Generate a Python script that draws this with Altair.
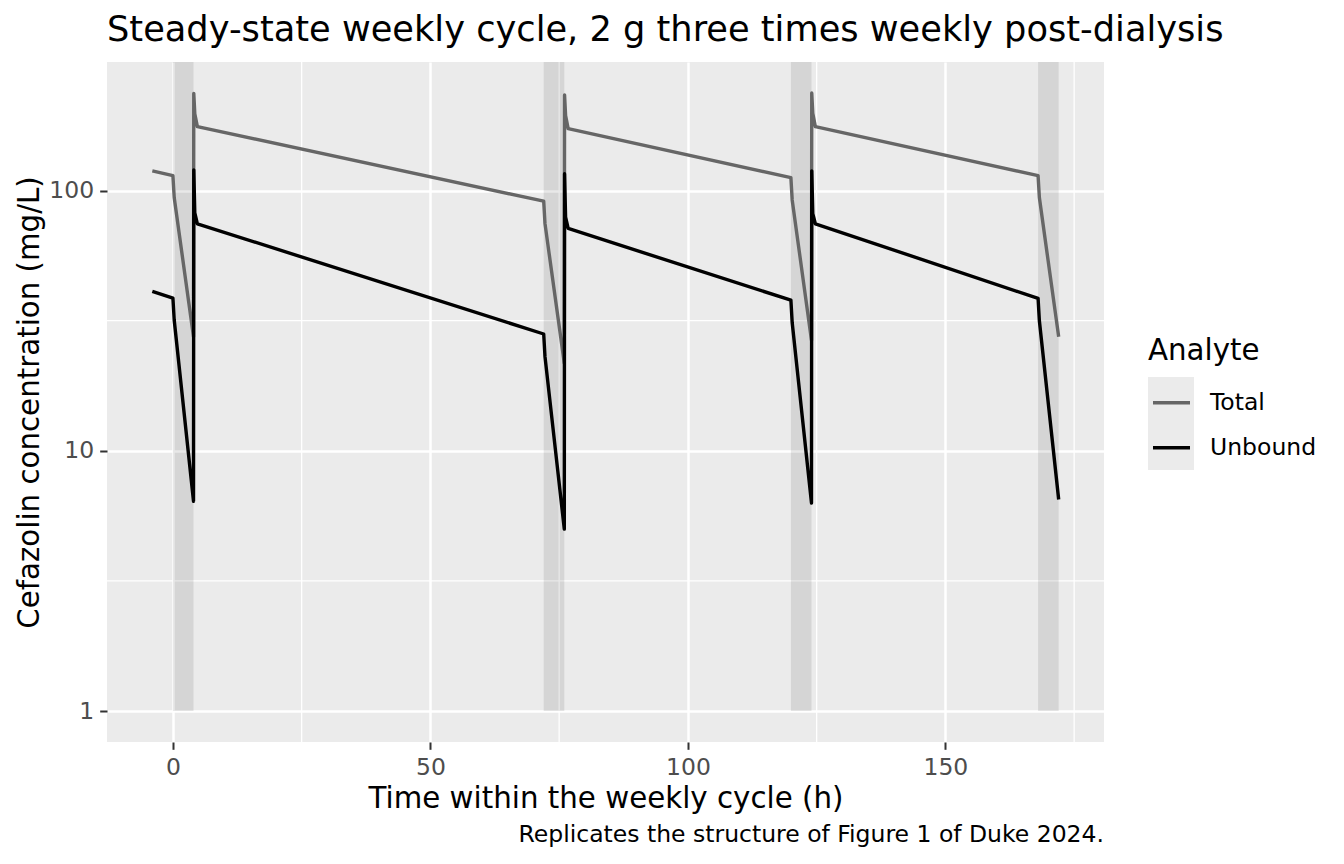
import altair as alt
import pandas as pd

# weekly cycle, times in h; dialysis 0-4, 72-76, 120-124, 168-172
time_h = [-4, 0, 0.25, 4, 4.05, 4.25, 4.75, 72, 72.25, 76, 76.05, 76.25, 76.75,
          120, 120.25, 124, 124.05, 124.25, 124.75, 168, 168.25, 172]
total_mg_l = [119, 114, 94, 27.4, 236, 197, 176, 91, 74.6, 21.7, 233, 194, 173,
              112, 92, 26.6, 237, 198, 176, 114, 94, 27.4]
unbound_mg_l = [41, 38.6, 31.8, 6.4, 120, 82, 74.5, 28.1, 23.0, 5.0, 116, 79, 71.5,
                37.9, 31.1, 6.3, 119, 81.5, 74.5, 38.5, 31.6, 6.5]
analytes = ["Total", "Unbound"]
analyte_colors = ["#666666", "#000000"]

dialysis_start_h = [0, 72, 120, 168]
dialysis_end_h = [4, 76, 124, 172]
dialysis_low = [1, 1, 1, 1]

x_major = [0, 50, 100, 150]
x_minor = [25, 75, 125, 175]
y_major = [1, 10, 100]
y_minor = [3.162, 31.62]

title_text = "Steady-state weekly cycle, 2 g three times weekly post-dialysis"
caption_text = "Replicates the structure of Figure 1 of Duke 2024."
FONT = "DejaVu Sans"

conc = pd.DataFrame({
    "time": time_h * 2,
    "conc": total_mg_l + unbound_mg_l,
    "Analyte": ["Total"] * len(time_h) + ["Unbound"] * len(time_h),
})
sessions = pd.DataFrame({"start": dialysis_start_h, "end": dialysis_end_h, "low": dialysis_low})

x_scale = alt.Scale(domain=[-12.8, 180.8], nice=False, zero=False)
y_scale = alt.Scale(type="log", domain=[0.7606, 311.7], nice=False)

x_axis = alt.Axis(values=x_major, title="Time within the weekly cycle (h)",
                  grid=True, gridColor="white", gridWidth=2.5, domain=False,
                  tickColor="#333333", tickWidth=2, tickSize=7.3,
                  labelFont=FONT, labelFontSize=23.5, labelColor="#4D4D4D", labelPadding=6,
                  titleFont=FONT, titleFontSize=29.3, titleFontWeight="normal", titleColor="black",
                  titleX=498.5, titleY=65, titleAlign="center", titleBaseline="alphabetic")
y_axis = alt.Axis(values=y_major, format="d", title="Cefazolin concentration (mg/L)",
                  grid=True, gridColor="white", gridWidth=2.5, domain=False,
                  tickColor="#333333", tickWidth=2, tickSize=7.3,
                  labelFont=FONT, labelFontSize=23.5, labelColor="#4D4D4D", labelPadding=6,
                  titleFont=FONT, titleFontSize=29.3, titleFontWeight="normal", titleColor="black",
                  titleAngle=270, titleX=-68.7, titleY=340, titleAlign="center",
                  titleBaseline="alphabetic")

minor_v = alt.Chart(pd.DataFrame({"t": x_minor})).mark_rule(color="white", strokeWidth=1.3).encode(
    x=alt.X("t:Q", scale=x_scale, axis=x_axis))
minor_h = alt.Chart(pd.DataFrame({"c": y_minor})).mark_rule(color="white", strokeWidth=1.3).encode(
    y=alt.Y("c:Q", scale=y_scale, axis=y_axis))

rects = alt.Chart(sessions).mark_rect(fill="black", opacity=0.09).encode(
    x=alt.X("start:Q", scale=x_scale, axis=x_axis),
    x2="end:Q",
    y=alt.Y("low:Q", scale=y_scale, axis=y_axis),
    y2=alt.value(0),
)

lines = alt.Chart(conc).mark_line(strokeWidth=3.4, strokeJoin="round").encode(
    x=alt.X("time:Q", scale=x_scale, axis=x_axis),
    y=alt.Y("conc:Q", scale=y_scale, axis=y_axis),
    color=alt.Color("Analyte:N", scale=alt.Scale(domain=analytes, range=analyte_colors),
                    legend=alt.Legend(orient="none", legendX=1041, legendY=275,
                                      title="Analyte", titleFont=FONT, titleFontSize=29.3,
                                      titleFontWeight="normal", titleColor="black",
                                      titleBaseline="top", titlePadding=16,
                                      symbolType="stroke", symbolSize=1369, symbolStrokeWidth=3.4,
                                      symbolOffset=3, labelOffset=18,
                                      labelFont=FONT, labelFontSize=23.5, labelColor="black",
                                      rowPadding=13)),
)

key_bg = alt.Chart(pd.DataFrame({"k": [0]})).mark_rect(fill="#EBEBEB").encode(
    x=alt.value(1041), x2=alt.value(1087), y=alt.value(315), y2=alt.value(408))

title = alt.Chart(pd.DataFrame({"txt": [title_text]})).mark_text(
    font=FONT, fontSize=35.2, color="black", align="left", baseline="alphabetic").encode(
    text="txt:N", x=alt.value(0), y=alt.value(-21))

caption = alt.Chart(pd.DataFrame({"txt": [caption_text]})).mark_text(
    font=FONT, fontSize=23.5, color="black", align="right", baseline="alphabetic").encode(
    text="txt:N", x=alt.value(997), y=alt.value(780))

chart = alt.layer(minor_v, minor_h, rects, lines, key_bg, title, caption).properties(
    width=997, height=680,
    autosize=alt.AutoSizeParams(type="none"),
    padding={"left": 99, "top": 54, "right": 232, "bottom": 114},
).configure_view(strokeWidth=0, fill="#EBEBEB")

chart.save("out.html", embed_options={"renderer": "svg", "actions": False})
